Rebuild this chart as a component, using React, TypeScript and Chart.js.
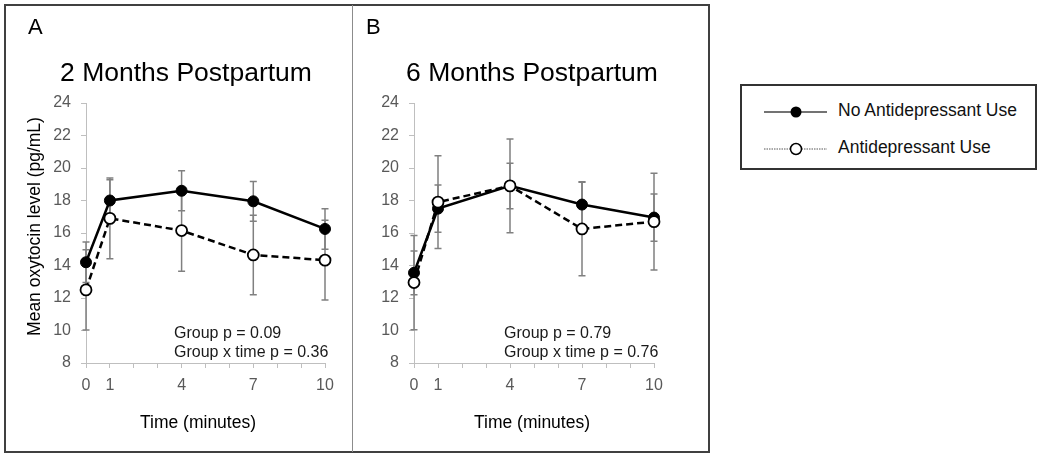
import React, { useEffect, useRef } from "react";
import { Chart, registerables } from "chart.js";

Chart.register(...registerables);

// ---------------- DATA ----------------
const timePoints = [0, 1, 4, 7, 10];
const xTickLabels = [0, 1, 4, 7, 10];
const yTickMin = 8;
const yTickMax = 24;
const yTickStep = 2;

const seriesNames = ["No Antidepressant Use", "Antidepressant Use"];

const twoMonthNoAD = [14.2, 18.0, 18.6, 17.95, 16.25];
const twoMonthNoADErr = [1.25, 1.28, 1.23, 1.22, 1.25];
const twoMonthAD = [12.5, 16.9, 16.15, 14.65, 14.33];
const twoMonthADErr = [2.47, 2.48, 2.5, 2.45, 2.46];

const sixMonthNoAD = [13.55, 17.5, 18.9, 17.75, 16.95];
const sixMonthNoADErr = [1.35, 1.45, 1.4, 1.4, 1.45];
const sixMonthAD = [12.95, 17.9, 18.9, 16.25, 16.7];
const sixMonthADErr = [2.9, 2.85, 2.88, 2.88, 2.97];

const panelLetters = ["A", "B"];
const panelTitles = ["2 Months Postpartum", "6 Months Postpartum"];
const statsTwoMonth = ["Group p = 0.09", "Group x time p = 0.36"];
const statsSixMonth = ["Group p = 0.79", "Group x time p = 0.76"];
const yAxisTitle = "Mean oxytocin level (pg/mL)";
const xAxisTitle = "Time (minutes)";

// ---------------- STYLE ----------------
const FONT = "'Liberation Sans', Arial, sans-serif";
const AXIS_GRAY = "#bfbfbf";
const TICK_TEXT = "#595959";
const ERR_GRAY = "#808080";

const errorBarPlugin = {
  id: "errorBars",
  beforeDatasetsDraw(chart: any) {
    const ctx = chart.ctx;
    const yScale = chart.scales.y;
    chart.data.datasets.forEach((ds: any, di: number) => {
      const errs = ds.errors;
      if (!errs) return;
      const meta = chart.getDatasetMeta(di);
      ctx.save();
      ctx.strokeStyle = ERR_GRAY;
      ctx.lineWidth = 1.5;
      meta.data.forEach((pt: any, i: number) => {
        const v = ds.data[i].y;
        const e = errs[i];
        const yTop = yScale.getPixelForValue(v + e);
        const yBot = yScale.getPixelForValue(v - e);
        const x = pt.x;
        ctx.beginPath();
        ctx.moveTo(x, yTop);
        ctx.lineTo(x, yBot);
        ctx.moveTo(x - 3.5, yTop);
        ctx.lineTo(x + 3.5, yTop);
        ctx.moveTo(x - 3.5, yBot);
        ctx.lineTo(x + 3.5, yBot);
        ctx.stroke();
      });
      ctx.restore();
    });
  },
};

function makeTextPlugin(t: any) {
  return {
    id: "panelText",
    afterDraw(chart: any) {
      const ctx = chart.ctx;
      ctx.save();
      ctx.fillStyle = "#000";
      ctx.textBaseline = "alphabetic";
      // panel letter
      ctx.font = `22px ${FONT}`;
      ctx.textAlign = "left";
      ctx.fillText(t.letter, t.letterX, 34);
      // title
      ctx.font = `26.5px ${FONT}`;
      ctx.textAlign = "center";
      ctx.fillText(t.title, t.titleX, 81);
      // x title
      ctx.font = `17.5px ${FONT}`;
      ctx.fillText(xAxisTitle, t.xTitleX, 428);
      // y title
      if (t.showYTitle) {
        ctx.save();
        ctx.translate(39.5, 226.5);
        ctx.rotate(-Math.PI / 2);
        ctx.textAlign = "center";
        ctx.fillText(yAxisTitle, 0, 0);
        ctx.restore();
      }
      // stats annotation
      ctx.font = `16px ${FONT}`;
      ctx.fillStyle = "#1a1a1a";
      ctx.textAlign = "left";
      ctx.fillText(t.stats[0], t.statsX, 338);
      ctx.fillText(t.stats[1], t.statsX, 357);
      ctx.restore();
    },
  };
}

function Panel(props: any) {
  const ref = useRef<HTMLCanvasElement | null>(null);
  const { left, width, height, area, noAD, noADErr, ad, adErr, text } = props;

  useEffect(() => {
    if (!ref.current) return;
    const axisCommon = {
      grid: {
        display: true,
        drawOnChartArea: false,
        drawTicks: true,
        tickLength: 5,
        color: AXIS_GRAY,
        tickColor: AXIS_GRAY,
        lineWidth: 1,
      },
      border: { display: true, color: AXIS_GRAY, width: 1 },
    };
    const chart = new Chart(ref.current, {
      type: "line",
      data: {
        datasets: [
          {
            label: seriesNames[0],
            data: timePoints.map((t, i) => ({ x: t, y: noAD[i] })),
            errors: noADErr,
            borderColor: "#000",
            borderWidth: 2.5,
            pointRadius: 5.5,
            pointBackgroundColor: "#000",
            pointBorderColor: "#000",
            pointBorderWidth: 1,
            tension: 0,
            clip: false,
            order: 2,
          } as any,
          {
            label: seriesNames[1],
            data: timePoints.map((t, i) => ({ x: t, y: ad[i] })),
            errors: adErr,
            borderColor: "#000",
            borderWidth: 2.5,
            borderDash: [7, 4],
            pointRadius: 5.5,
            pointBackgroundColor: "#fff",
            pointBorderColor: "#000",
            pointBorderWidth: 1.8,
            tension: 0,
            clip: false,
            order: 1,
          } as any,
        ],
      },
      options: {
        responsive: false,
        animation: false,
        layout: {
          padding: { left: 0, top: area.top, right: width - area.right, bottom: 0 },
        },
        plugins: {
          legend: { display: false },
          tooltip: { enabled: false },
          title: { display: false },
        },
        scales: {
          x: {
            type: "linear",
            min: 0,
            max: 10,
            ...axisCommon,
            ticks: {
              stepSize: 1,
              autoSkip: false,
              maxRotation: 0,
              padding: 8,
              color: TICK_TEXT,
              font: { family: FONT, size: 16 },
              callback: (v: any) => (xTickLabels.includes(Number(v)) ? String(v) : ""),
            },
            afterFit: (s: any) => {
              s.height = height - area.bottom;
            },
          },
          y: {
            min: yTickMin,
            max: yTickMax,
            ...axisCommon,
            ticks: {
              stepSize: yTickStep,
              padding: 10,
              color: TICK_TEXT,
              font: { family: FONT, size: 16 },
            },
            afterFit: (s: any) => {
              s.width = area.left;
            },
          },
        },
      } as any,
      plugins: [errorBarPlugin, makeTextPlugin(text)],
    } as any);
    return () => chart.destroy();
  }, []);

  return (
    <canvas
      ref={ref}
      width={width}
      height={height}
      style={{ position: "absolute", left, top: 0, width, height }}
    />
  );
}

function Legend() {
  const textStyle: any = {
    position: "absolute",
    left: 838,
    fontFamily: FONT,
    fontSize: "17.5px",
    lineHeight: "20px",
    color: "#111",
    whiteSpace: "nowrap",
  };
  return (
    <>
      <div
        style={{
          position: "absolute",
          left: 740,
          top: 84,
          width: 297,
          height: 86,
          border: "2px solid #333",
          boxSizing: "border-box",
        }}
      />
      <svg style={{ position: "absolute", left: 762, top: 102 }} width={68} height={20}>
        <line x1={2} y1={10} x2={65} y2={10} stroke="#444" strokeWidth={1.3} />
        <circle cx={34} cy={10} r={5.5} fill="#000" />
      </svg>
      <div style={{ ...textStyle, top: 99.5 }}>{seriesNames[0]}</div>
      <svg style={{ position: "absolute", left: 762, top: 139 }} width={68} height={20}>
        <line x1={2} y1={10} x2={65} y2={10} stroke="#555" strokeWidth={1} strokeDasharray="1.5 1" />
        <circle cx={34} cy={10} r={5.5} fill="#fff" stroke="#000" strokeWidth={1.5} />
      </svg>
      <div style={{ ...textStyle, top: 136.5 }}>{seriesNames[1]}</div>
    </>
  );
}

export default function App() {
  return (
    <div
      style={{
        position: "fixed",
        left: 0,
        top: 0,
        width: 1042,
        height: 457,
        background: "#fff",
        overflow: "hidden",
      }}
    >
      <div
        style={{
          position: "absolute",
          left: 4,
          top: 4,
          width: 706,
          height: 449,
          border: "2px solid #404040",
          boxSizing: "border-box",
        }}
      />
      <div
        style={{ position: "absolute", left: 352, top: 5, width: 1, height: 447, background: "#8c8c8c" }}
      />
      <Panel
        left={0}
        width={352}
        height={457}
        area={{ left: 86, right: 325, top: 103, bottom: 363 }}
        noAD={twoMonthNoAD}
        noADErr={twoMonthNoADErr}
        ad={twoMonthAD}
        adErr={twoMonthADErr}
        text={{
          letter: panelLetters[0],
          letterX: 28,
          title: panelTitles[0],
          titleX: 186,
          xTitleX: 198,
          showYTitle: true,
          stats: statsTwoMonth,
          statsX: 174,
        }}
      />
      <Panel
        left={353}
        width={356}
        height={457}
        area={{ left: 61, right: 301, top: 103, bottom: 363 }}
        noAD={sixMonthNoAD}
        noADErr={sixMonthNoADErr}
        ad={sixMonthAD}
        adErr={sixMonthADErr}
        text={{
          letter: panelLetters[1],
          letterX: 13,
          title: panelTitles[1],
          titleX: 179,
          xTitleX: 179,
          showYTitle: false,
          stats: statsSixMonth,
          statsX: 151,
        }}
      />
      <Legend />
    </div>
  );
}
